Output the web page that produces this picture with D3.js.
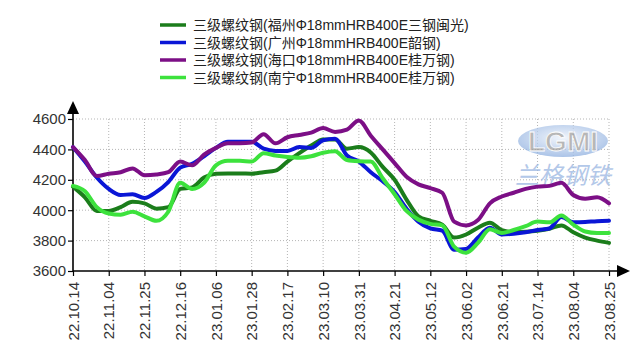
<!DOCTYPE html>
<html>
<head>
<meta charset="utf-8">
<script src="https://cdn.jsdelivr.net/npm/d3@7"></script>
<style>
  html, body { margin: 0; padding: 0; background: #fff; }
  svg { display: block; }
  text { font-family: "Liberation Sans", Arial, "Noto Sans CJK SC", sans-serif; }
</style>
</head>
<body>
<svg id="chart" width="640" height="360"></svg>
<script>
// ---- data ----
const tickLabels = ["22.10.14","22.11.04","22.11.25","22.12.16","23.01.06","23.01.28","23.02.17","23.03.10","23.03.31","23.04.21","23.05.12","23.06.02","23.06.21","23.07.14","23.08.04","23.08.25"];
const yTicks = [3600, 3800, 4000, 4200, 4400, 4600];
const seriesNames = [
  "三级螺纹钢(福州Φ18mmHRB400E三钢闽光)",
  "三级螺纹钢(广州Φ18mmHRB400E韶钢)",
  "三级螺纹钢(海口Φ18mmHRB400E桂万钢)",
  "三级螺纹钢(南宁Φ18mmHRB400E桂万钢)"
];
// weekly samples, 3 per tick interval
const fuzhou = [4155,4085,3995,3995,4020,4055,4045,4010,4020,4140,4150,4215,4240,4242,4242,4240,4250,4260,4320,4375,4425,4465,4465,4405,4415,4380,4285,4200,4070,3960,3930,3905,3820,3840,3885,3918,3868,3855,3858,3865,3878,3900,3855,3820,3800,3785];
const guangzhou = [4415,4320,4215,4140,4100,4105,4080,4120,4185,4280,4305,4355,4410,4450,4450,4450,4405,4390,4390,4415,4410,4460,4470,4360,4320,4250,4190,4120,4010,3925,3880,3865,3740,3745,3820,3885,3840,3845,3855,3870,3880,3955,3920,3922,3928,3930];
const haikou = [4415,4330,4225,4240,4250,4275,4230,4235,4250,4320,4295,4365,4410,4440,4440,4445,4500,4440,4480,4495,4510,4540,4515,4530,4590,4490,4400,4310,4220,4170,4145,4115,3925,3900,3935,4045,4090,4115,4140,4155,4160,4180,4100,4075,4085,4045];
const nanning = [4160,4125,4020,3978,3970,3990,3960,3930,3990,4180,4140,4180,4295,4325,4325,4320,4375,4360,4350,4345,4355,4378,4388,4330,4322,4320,4210,4105,3995,3938,3910,3900,3760,3720,3785,3875,3850,3870,3895,3925,3920,3965,3905,3860,3850,3850];
const seriesColors = ["#1b7d1b", "#0a16d6", "#7c0f86", "#3de23d"];

const series = [fuzhou, guangzhou, haikou, nanning];
const perTick = 3;
const nPts = fuzhou.length;

// ---- layout ----
const svg = d3.select("#chart");
const x0 = 73, x1 = 609, yTop = 119, yBot = 271;
const x = d3.scaleLinear().domain([0, nPts - 1]).range([x0, x1]);
const y = d3.scaleLinear().domain([3600, 4600]).range([yBot, yTop]);

// grid
const g = svg.append("g");
g.selectAll(".hg").data(yTicks.filter(v => v > 3600)).enter().append("line")
  .attr("x1", x0).attr("x2", x1)
  .attr("y1", d => y(d)).attr("y2", d => y(d))
  .attr("stroke", "#b5b5b5").attr("stroke-width", 1).attr("stroke-dasharray", "1,2");
g.selectAll(".vg").data(tickLabels.map((d, i) => i * perTick).filter(i => i > 0)).enter().append("line")
  .attr("x1", d => x(d)).attr("x2", d => x(d))
  .attr("y1", yTop).attr("y2", yBot)
  .attr("stroke", "#b5b5b5").attr("stroke-width", 1).attr("stroke-dasharray", "1,2");

// axes with d3 axis generators
const yAxis = d3.axisLeft(y).tickValues(yTicks).tickSize(5).tickPadding(2).tickFormat(d3.format("d"));
const yg = svg.append("g").attr("transform", `translate(${x0},0)`).call(yAxis);
yg.select(".domain").remove();
yg.selectAll("line").attr("stroke", "#000").attr("stroke-width", 1.2);
yg.selectAll("text").attr("font-size", 15).attr("fill", "#333")
  .attr("font-family", "'Liberation Sans', Arial, sans-serif");

const xAxis = d3.axisBottom(x).tickValues(tickLabels.map((d, i) => i * perTick))
  .tickSize(5).tickFormat((d) => tickLabels[d / perTick]);
const xg = svg.append("g").attr("transform", `translate(0,${yBot})`).call(xAxis);
xg.select(".domain").remove();
xg.selectAll("line").attr("stroke", "#000").attr("stroke-width", 1.2);
xg.selectAll("text")
  .attr("font-size", 15).attr("fill", "#333")
  .attr("font-family", "'Liberation Sans', Arial, sans-serif")
  .attr("text-anchor", "end")
  .attr("transform", "rotate(-90)")
  .attr("x", -11).attr("y", 0).attr("dy", "0.35em");

// axis lines with arrows
svg.append("line").attr("x1", x0).attr("x2", x0).attr("y1", yBot).attr("y2", 110)
  .attr("stroke", "#000").attr("stroke-width", 1.6);
svg.append("path").attr("d", `M${x0},101 L${x0 - 6},114 L${x0 + 6},114 Z`).attr("fill", "#000");
svg.append("line").attr("x1", x0).attr("x2", 620).attr("y1", yBot).attr("y2", yBot)
  .attr("stroke", "#000").attr("stroke-width", 1.6);
svg.append("path").attr("d", `M630,${yBot} L617,${yBot - 6} L617,${yBot + 6} Z`).attr("fill", "#000");

// watermark
const wm = svg.append("g").attr("opacity", 0.75);
const grad = svg.append("defs").append("radialGradient").attr("id", "wmg").attr("cx", "50%").attr("cy", "40%").attr("r", "60%");
grad.append("stop").attr("offset", "0%").attr("stop-color", "#eef3fb");
grad.append("stop").attr("offset", "100%").attr("stop-color", "#8fb0e0");
wm.append("ellipse").attr("cx", 563).attr("cy", 141).attr("rx", 45).attr("ry", 16).attr("fill", "url(#wmg)");
wm.append("text").attr("x", 563).attr("y", 151).attr("text-anchor", "middle")
  .attr("font-size", 28).attr("font-weight", "bold").attr("fill", "#a0a0a0")
  .attr("stroke", "#fff").attr("stroke-width", 0.8)
  .attr("font-family", "'Liberation Sans', Arial, sans-serif").text("LGMI");
wm.append("text").attr("x", 563).attr("y", 184).attr("text-anchor", "middle")
  .attr("font-size", 24).attr("font-style", "italic").attr("fill", "#9ab6e2")
  .attr("font-family", "'Noto Sans CJK SC', sans-serif").text("兰格钢铁");

// lines
const line = d3.line().x((d, i) => x(i)).y(d => y(d)).curve(d3.curveMonotoneX);
const order = [0, 1, 3, 2];
svg.append("g").selectAll("path").data(order).enter().append("path")
  .attr("d", k => line(series[k]))
  .attr("fill", "none").attr("stroke", k => seriesColors[k])
  .attr("stroke-width", 4).attr("stroke-linejoin", "round").attr("stroke-linecap", "round");

// legend
const lg = svg.append("g");
const rowY = [25, 42.5, 60, 77.5];
seriesNames.forEach((name, k) => {
  lg.append("line").attr("x1", 160).attr("x2", 186).attr("y1", rowY[k]).attr("y2", rowY[k])
    .attr("stroke", seriesColors[k]).attr("stroke-width", 3.5);
  lg.append("text").attr("x", 193).attr("y", rowY[k]).attr("dy", "0.36em")
    .attr("font-size", 14).attr("fill", "#222")
    .attr("font-family", "'Liberation Sans', Arial, 'Noto Sans CJK SC', sans-serif")
    .text(name);
});
</script>
</body>
</html>
